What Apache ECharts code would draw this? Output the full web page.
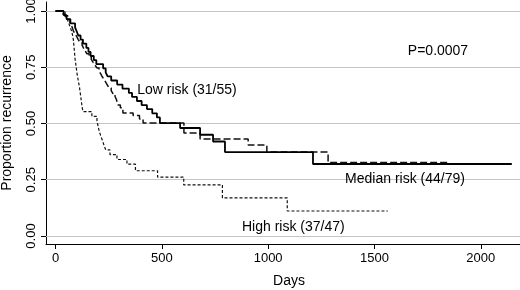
<!DOCTYPE html>
<html>
<head>
<meta charset="utf-8">
<script src="https://cdn.jsdelivr.net/npm/echarts@6/dist/echarts.min.js"></script>
<style>
  html, body { margin: 0; padding: 0; background: #fff; }
  #chart { width: 520px; height: 290px; }
</style>
</head>
<body>
<div id="chart"></div>
<script>
// Kaplan-Meier curves (day, proportion without recurrence)
const lowDays = [0, 38, 52, 70, 92, 100, 107, 118, 129, 145, 155, 165, 180, 192, 224, 236, 245, 262, 290, 315, 345, 360, 383, 405, 430, 455, 477, 491, 586, 680, 741, 797, 1211, 2146];
const lowProb = [1, 0.982, 0.964, 0.945, 0.927, 0.909, 0.891, 0.873, 0.855, 0.836, 0.818, 0.8, 0.782, 0.764, 0.745, 0.727, 0.709, 0.691, 0.673, 0.655, 0.636, 0.618, 0.6, 0.582, 0.564, 0.545, 0.527, 0.502, 0.48, 0.45, 0.42, 0.373, 0.32, 0.32];

const medDays = [0, 35, 45, 55, 68, 74, 80, 84, 92, 100, 107, 115, 125, 132, 139, 148, 158, 168, 177, 186, 195, 205, 212, 219, 228, 236, 244, 252, 262, 270, 280, 286, 290, 294, 305, 317, 365, 395, 412, 604, 680, 906, 994, 1282, 1855];
const medProb = [1, 0.987, 0.975, 0.962, 0.949, 0.937, 0.924, 0.911, 0.899, 0.886, 0.873, 0.861, 0.848, 0.835, 0.823, 0.81, 0.797, 0.785, 0.772, 0.759, 0.747, 0.734, 0.722, 0.709, 0.696, 0.684, 0.671, 0.658, 0.646, 0.633, 0.62, 0.608, 0.595, 0.582, 0.57, 0.547, 0.535, 0.52, 0.502, 0.458, 0.431, 0.404, 0.373, 0.327, 0.327];

const highDays = [0, 45, 58, 66, 74, 80, 84, 86, 88, 90, 92, 95, 98, 101, 105, 109, 113, 116, 119, 122, 125, 129, 171, 195, 200, 205, 212, 220, 228, 236, 256, 289, 336, 376, 480, 603, 785, 1090, 1563];
const highProb = [1, 0.979, 0.957, 0.936, 0.915, 0.894, 0.872, 0.851, 0.83, 0.809, 0.787, 0.766, 0.745, 0.723, 0.702, 0.681, 0.66, 0.638, 0.617, 0.596, 0.574, 0.553, 0.532, 0.511, 0.489, 0.468, 0.447, 0.426, 0.404, 0.383, 0.362, 0.34, 0.319, 0.29, 0.262, 0.227, 0.169, 0.111, 0.111];

const xTicks = [0, 500, 1000, 1500, 2000];
const yTicks = [0, 0.25, 0.5, 0.75, 1];

// text notes placed at data coordinates
const noteText = ["Low risk (31/55)", "Median risk (44/79)", "High risk (37/47)", "P=0.0007"];
const noteDay = [384, 1362, 877, 1657];
const noteProb = [0.649, 0.253, 0.04, 0.822];

const font = "'Liberation Sans', Arial, Helvetica, sans-serif";

const zip = (xs, ys) => xs.map((x, i) => [x, ys[i]]);

const chart = echarts.init(document.getElementById("chart"));

const option = {
  backgroundColor: "#fff",
  animation: false,
  grid: {
    left: 46,
    right: -12,
    top: 2,
    bottom: 46,
    containLabel: false,
    outerBoundsMode: "none",
  },
  xAxis: {
    type: "value",
    min: -44.7,
    max: 2241,
    name: "Days",
    nameLocation: "middle",
    nameGap: 30,
    nameTextStyle: { color: "#000", fontSize: 14, fontFamily: font },
    axisLine: { show: true, onZero: false, lineStyle: { color: "#000", width: 1 } },
    axisTick: { show: true, length: 5, customValues: xTicks, lineStyle: { color: "#000" } },
    axisLabel: {
      customValues: xTicks,
      color: "#000",
      fontSize: 13,
      fontFamily: font,
      margin: 8,
      formatter: (v) => String(v),
    },
    splitLine: { show: false },
  },
  yAxis: {
    type: "value",
    min: -0.0356,
    max: 1.04,
    name: "Proportion recurrence",
    nameLocation: "middle",
    nameGap: 32,
    nameTextStyle: { color: "#000", fontSize: 14, fontFamily: font },
    axisLine: { show: true, onZero: false, lineStyle: { color: "#000", width: 1 } },
    axisTick: { show: true, length: 5, customValues: yTicks, lineStyle: { color: "#000" } },
    axisLabel: {
      customValues: yTicks,
      rotate: 90,
      color: "#000",
      fontSize: 13,
      fontFamily: font,
      margin: 8,
      formatter: (v) => v.toFixed(2),
    },
    splitLine: { show: false },
  },
  series: [
    {
      name: "High risk",
      type: "line",
      step: "end",
      showSymbol: false,
      lineStyle: { color: "#111", width: 1.2, type: [3, 2] },
      data: zip(highDays, highProb),
      z: 2,
      markLine: {
        silent: true,
        symbol: "none",
        label: { show: false },
        lineStyle: { color: "#c4c4c4", width: 1, type: "solid" },
        data: yTicks.map((v) => ({ yAxis: v })),
        z: 1,
      },
      markPoint: {
        symbol: "circle",
        symbolSize: 0,
        label: {
          show: true,
          position: "right",
          distance: 0,
          color: "#000",
          fontSize: 14,
          fontFamily: font,
          formatter: (p) => p.name,
        },
        data: noteText.map((t, i) => ({ name: t, coord: [noteDay[i], noteProb[i]] })),
      },
    },
    {
      name: "Median risk",
      type: "line",
      step: "end",
      showSymbol: false,
      lineStyle: { color: "#111", width: 1.5, type: [7, 3] },
      data: zip(medDays, medProb),
      z: 3,
    },
    {
      name: "Low risk",
      type: "line",
      step: "end",
      showSymbol: false,
      lineStyle: { color: "#000", width: 1.8 },
      data: zip(lowDays, lowProb),
      z: 4,
    },
  ],
};

chart.setOption(option);

window.addEventListener("resize", () => chart.resize());
</script>
</body>
</html>
